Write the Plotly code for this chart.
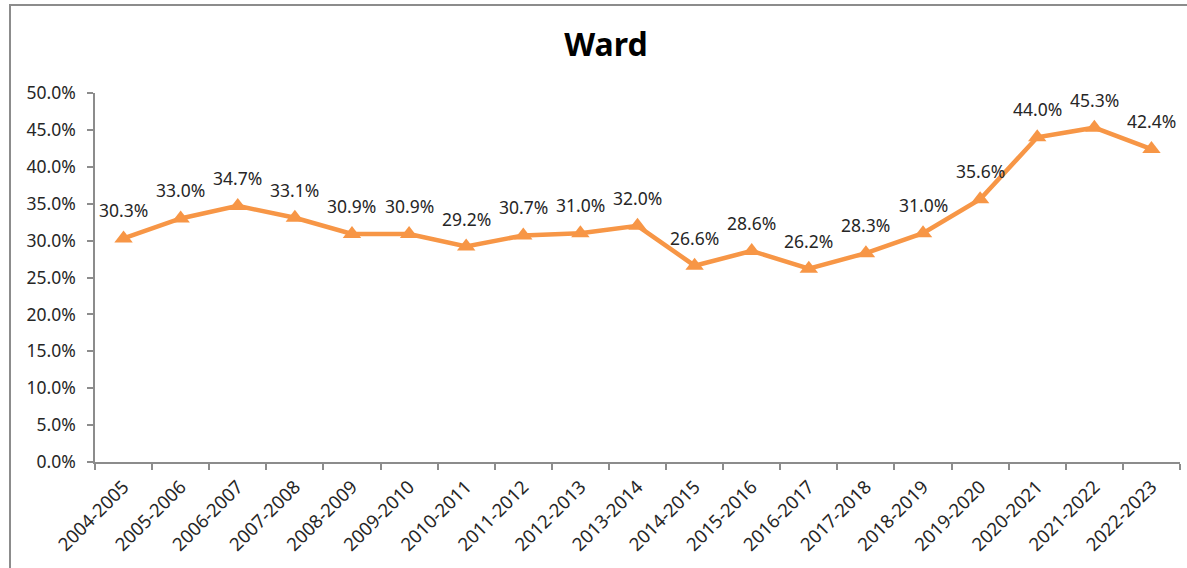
import plotly.graph_objects as go

categories = ["2004-2005", "2005-2006", "2006-2007", "2007-2008", "2008-2009", "2009-2010",
              "2010-2011", "2011-2012", "2012-2013", "2013-2014", "2014-2015", "2015-2016",
              "2016-2017", "2017-2018", "2018-2019", "2019-2020", "2020-2021", "2021-2022",
              "2022-2023"]
values = [0.303, 0.330, 0.347, 0.331, 0.309, 0.309, 0.292, 0.307, 0.310, 0.320,
          0.266, 0.286, 0.262, 0.283, 0.310, 0.356, 0.440, 0.453, 0.424]
y_ticks = [0.0, 0.05, 0.10, 0.15, 0.20, 0.25, 0.30, 0.35, 0.40, 0.45, 0.50]

orange = "#F79646"
axis_gray = "#8C8C8C"
font_family = "Noto Sans, Open Sans, sans-serif"

W, H = 1187, 568
L, T = 95, 93
PW, PH = 1085, 369

fig = go.Figure()
fig.add_trace(go.Scatter(
    x=categories, y=values, mode="lines+markers",
    line=dict(color=orange, width=4.5),
    marker=dict(symbol="triangle-up", size=16, color=orange),
    hoverinfo="skip", showlegend=False,
))

for c, v in zip(categories, values):
    fig.add_annotation(x=c, y=v, text=f"{v*100:.1f}%", showarrow=False,
                       yshift=28, font=dict(size=17.5, color="#262626", family=font_family))

fig.add_shape(type="rect", xref="paper", yref="paper",
              x0=(10 - L) / PW, x1=1.2, y0=-0.6, y1=(T + PH - 5) / PH,
              line=dict(color=axis_gray, width=2), layer="below")

fig.update_layout(
    width=W, height=H,
    margin=dict(l=L, r=W - L - PW, t=T, b=H - T - PH, autoexpand=False),
    paper_bgcolor="white", plot_bgcolor="white",
    title=dict(text="<b>Ward</b>", x=606 / W, xref="container", xanchor="center",
               y=1 - 45 / H, yref="container", yanchor="middle",
               font=dict(size=32, color="#000000", family=font_family)),
    font=dict(family=font_family, color="#333333", size=17),
    xaxis=dict(
        type="category", showgrid=False, showline=True, linecolor=axis_gray, linewidth=1.5,
        ticks="outside", tickson="boundaries", ticklen=6, tickcolor=axis_gray, tickwidth=1.5,
        tickangle=-45, tickfont=dict(size=18.5, color="#262626"), automargin=False,
        ticklabelstandoff=5, range=[-0.5, len(categories) - 0.5],
    ),
    yaxis=dict(
        range=[0, 0.5], tickvals=y_ticks, tickformat=".1%", showgrid=False, zeroline=False,
        showline=True, linecolor=axis_gray, linewidth=1.5,
        ticks="outside", ticklen=6, tickcolor=axis_gray, tickwidth=1.5,
        tickfont=dict(size=17.5, color="#262626"), ticklabelstandoff=8, automargin=False,
    ),
)

fig.write_html("out.html", config={"displayModeBar": False},
               post_script="document.body.style.margin='0';document.body.style.overflow='hidden';")
